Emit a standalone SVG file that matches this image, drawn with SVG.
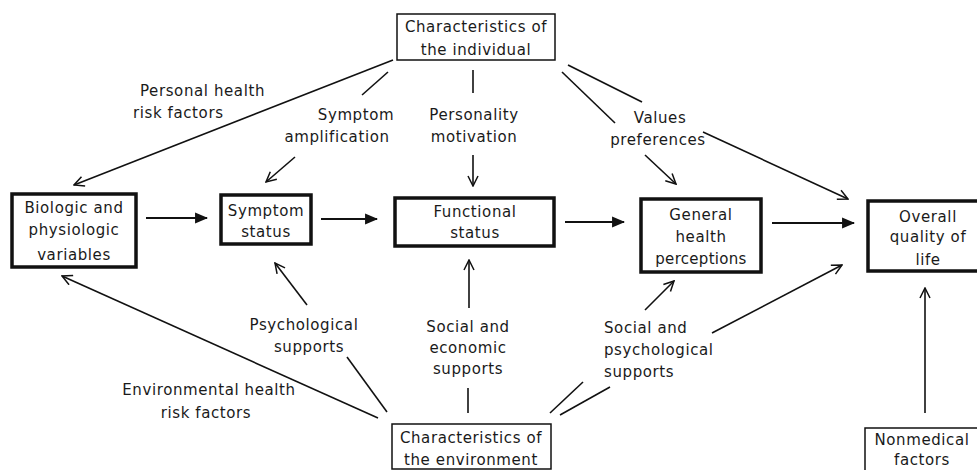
<svg xmlns="http://www.w3.org/2000/svg" width="977" height="470" viewBox="0 0 977 470">
<defs>
<marker id="open" viewBox="0 0 12 12" refX="11" refY="6" markerWidth="12" markerHeight="12" markerUnits="userSpaceOnUse" orient="auto">
<path d="M1,1 L11,6 L1,11" fill="none" stroke="#111" stroke-width="1.5"/>
</marker>
<marker id="solid" viewBox="0 0 12 12" refX="11" refY="6" markerWidth="13" markerHeight="13" markerUnits="userSpaceOnUse" orient="auto">
<path d="M0,1 L12,6 L0,11 Z" fill="#111"/>
</marker>
<style>
text{font-family:"DejaVu Sans","Liberation Sans",sans-serif;font-size:15px;letter-spacing:0.6px;fill:#1a1a1a;text-anchor:middle}
.main{fill:#fff;stroke:#111;stroke-width:3.5}
.thin{fill:#fff;stroke:#111;stroke-width:1.5}
.ln{fill:none;stroke:#111;stroke-width:1.6}
.oa{marker-end:url(#open)}
.sa{marker-end:url(#solid);stroke-width:2}
</style>
</defs>
<rect width="977" height="470" fill="#fff"/>
<g id="connectors">
<line class="ln sa" x1="146" y1="218" x2="207" y2="218"/>
<line class="ln sa" x1="321" y1="219" x2="377" y2="219"/>
<line class="ln sa" x1="565" y1="222" x2="624" y2="222"/>
<line class="ln sa" x1="772" y1="223" x2="854" y2="223"/>
<line class="ln oa" x1="393" y1="60" x2="74" y2="185"/>
<line class="ln" x1="388" y1="72" x2="362" y2="95"/>
<line class="ln oa" x1="295" y1="157" x2="266" y2="182"/>
<line class="ln" x1="473" y1="70" x2="473" y2="93"/>
<line class="ln oa" x1="473" y1="155" x2="473" y2="186"/>
<line class="ln" x1="568" y1="65" x2="642" y2="102"/>
<line class="ln oa" x1="703" y1="132" x2="848" y2="199"/>
<line class="ln" x1="562" y1="72" x2="615" y2="123"/>
<line class="ln oa" x1="645" y1="155" x2="676" y2="184"/>
<line class="ln oa" x1="378" y1="418" x2="62" y2="276"/>
<line class="ln" x1="387" y1="412" x2="347" y2="357"/>
<line class="ln oa" x1="307" y1="305" x2="275" y2="263"/>
<line class="ln" x1="468" y1="388" x2="468" y2="413"/>
<line class="ln oa" x1="469" y1="308" x2="469" y2="260"/>
<line class="ln" x1="550" y1="413" x2="583" y2="382"/>
<line class="ln" x1="560" y1="415" x2="610" y2="387"/>
<line class="ln oa" x1="645" y1="310" x2="674" y2="281"/>
<line class="ln oa" x1="712" y1="333" x2="842" y2="265"/>
<line class="ln oa" x1="925" y1="413" x2="925" y2="288"/>
</g>
<g id="labels">
<text x="140" y="96" style="text-anchor:start">Personal health</text>
<text x="133" y="118" style="text-anchor:start">risk factors</text>
<text x="356" y="120">Symptom</text>
<text x="337" y="142">amplification</text>
<text x="474" y="120">Personality</text>
<text x="474" y="142">motivation</text>
<text x="660" y="123">Values</text>
<text x="658" y="145">preferences</text>
<text x="304" y="330">Psychological</text>
<text x="309" y="352">supports</text>
<text x="468" y="332">Social  and</text>
<text x="468" y="353">economic</text>
<text x="468" y="374">supports</text>
<text x="604" y="333" style="text-anchor:start">Social and</text>
<text x="604" y="355" style="text-anchor:start">psychological</text>
<text x="604" y="377" style="text-anchor:start">supports</text>
<text x="209" y="395">Environmental health</text>
<text x="206" y="418">risk factors</text>
</g>
<g id="individual">
<rect class="thin" x="397" y="14" width="158" height="46"/>
<text x="476" y="32">Characteristics of</text>
<text x="476" y="55">the individual</text>
</g>
<g id="environment">
<rect class="thin" x="392" y="424" width="159" height="45"/>
<text x="471" y="443">Characteristics of</text>
<text x="471" y="465">the environment</text>
</g>
<g id="nonmedical">
<rect class="thin" x="865" y="428" width="130" height="50"/>
<text x="922" y="445">Nonmedical</text>
<text x="922" y="465">factors</text>
</g>
<g id="biologic">
<rect class="main" x="12" y="194" width="124" height="73"/>
<text x="74" y="213">Biologic and</text>
<text x="74" y="235">physiologic</text>
<text x="74" y="260">variables</text>
</g>
<g id="symptom">
<rect class="main" x="221" y="195" width="90" height="49"/>
<text x="266" y="216">Symptom</text>
<text x="266" y="237">status</text>
</g>
<g id="functional">
<rect class="main" x="395" y="198" width="159" height="48"/>
<text x="475" y="217">Functional</text>
<text x="475" y="238">status</text>
</g>
<g id="general">
<rect class="main" x="641" y="199" width="120" height="73"/>
<text x="701" y="220">General</text>
<text x="701" y="242">health</text>
<text x="701" y="264" style="letter-spacing:0.3px">perceptions</text>
</g>
<g id="overall">
<rect class="main" x="868" y="201" width="130" height="70"/>
<text x="928" y="222">Overall</text>
<text x="928" y="242">quality of</text>
<text x="928" y="265">life</text>
</g>
</svg>
